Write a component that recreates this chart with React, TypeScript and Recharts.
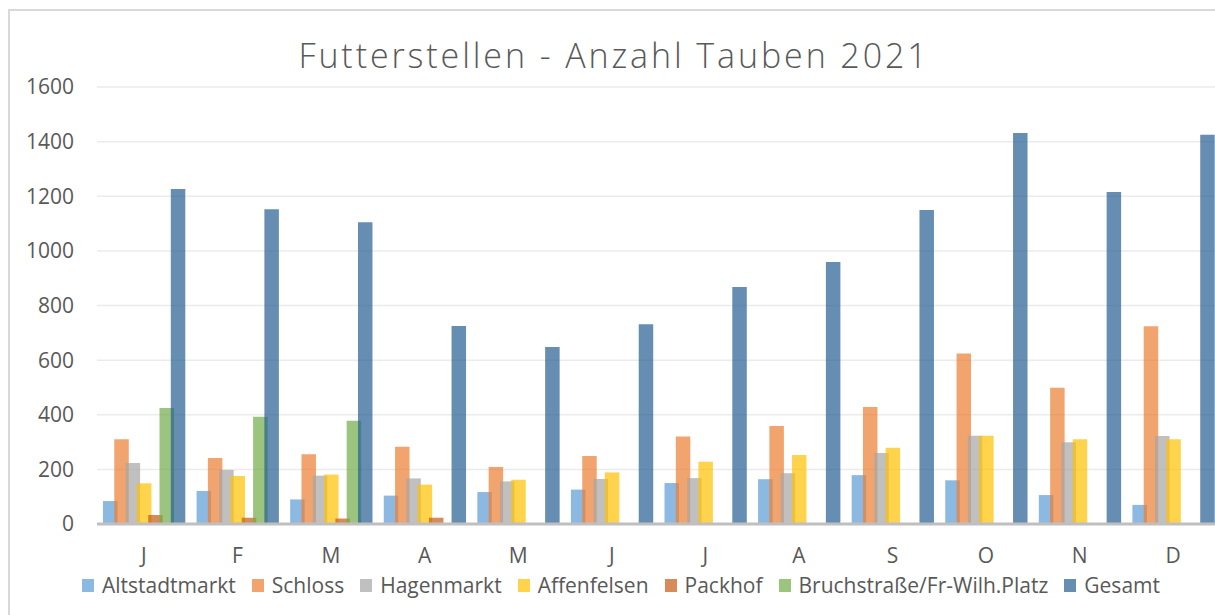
import React from 'react';
import { BarChart, Bar, XAxis, YAxis, CartesianGrid, Legend } from 'recharts';

// Monatliche Zählung an den Futterstellen
const months = ['J', 'F', 'M', 'A', 'M', 'J', 'J', 'A', 'S', 'O', 'N', 'D'];
const altstadtmarkt = [84, 121, 90, 104, 117, 126, 150, 164, 179, 160, 106, 70];
const schloss = [310, 242, 255, 283, 209, 249, 320, 359, 428, 624, 499, 724];
const hagenmarkt = [223, 198, 177, 167, 156, 165, 168, 186, 260, 323, 299, 322];
const affenfelsen = [149, 176, 181, 144, 162, 189, 228, 253, 279, 323, 310, 310];
const packhof = [33, 23, 20, 23, null, null, null, null, null, null, null, null];
const bruchstrasse = [425, 393, 378, null, null, null, null, null, null, null, null, null];
const gesamt = [1227, 1152, 1105, 725, 648, 731, 868, 959, 1150, 1432, 1216, 1425];
const yTicks = [0, 200, 400, 600, 800, 1000, 1200, 1400, 1600];

const series = [
  { key: 'Altstadtmarkt', color: '#5B9BD5' },
  { key: 'Schloss', color: '#ED7D31' },
  { key: 'Hagenmarkt', color: '#A5A5A5' },
  { key: 'Affenfelsen', color: '#FFC000' },
  { key: 'Packhof', color: '#C55A11' },
  { key: 'Bruchstraße/Fr-Wilh.Platz', color: '#70AD47' },
  { key: 'Gesamt', color: '#255E91' },
];

const data = months.map((m, i) => ({
  month: m,
  Altstadtmarkt: altstadtmarkt[i],
  Schloss: schloss[i],
  Hagenmarkt: hagenmarkt[i],
  Affenfelsen: affenfelsen[i],
  Packhof: packhof[i],
  'Bruchstraße/Fr-Wilh.Platz': bruchstrasse[i],
  Gesamt: gesamt[i],
}));

const FONT = '"Open Sans", "DejaVu Sans", sans-serif';
const TEXT = '#595959';

const LegendContent = () => (
  <div style={{ display: 'flex', justifyContent: 'center', gap: 16, fontFamily: FONT, fontSize: 21, color: TEXT }}>
    {series.map((s) => (
      <div key={s.key} style={{ display: 'flex', alignItems: 'center' }}>
        <span style={{ width: 12, height: 13, background: s.color, opacity: 0.7, marginRight: 8, display: 'inline-block' }} />
        <span>{s.key}</span>
      </div>
    ))}
  </div>
);

const App: React.FC = () => {
  return (
    <div style={{ position: 'fixed', left: 0, top: 0, width: 1215, height: 615, overflow: 'hidden', background: '#fff' }}>
      <div style={{ position: 'absolute', left: 8, top: 9, width: 1240, height: 660, border: '2px solid #d9d9d9' }} />
      <div
        style={{
          position: 'absolute', left: 9, top: 35, width: 1210, textAlign: 'center',
          fontFamily: FONT, fontWeight: 300, fontSize: 34, letterSpacing: 2.9, color: TEXT, lineHeight: '40px',
        }}
      >
        Futterstellen - Anzahl Tauben 2021
      </div>
      <div style={{ position: 'absolute', left: 9, top: 10 }}>
        <BarChart
          width={1224}
          height={640}
          data={data}
          margin={{ top: 77, right: 13, left: 0, bottom: 68 }}
          barSize={14.5}
          barGap={-3.2}
        >
          <CartesianGrid vertical={false} stroke="#ebebeb" strokeWidth={1.5} />
          <XAxis
            dataKey="month"
            height={30}
            tickLine={false}
            tickSize={0}
            tickMargin={24}
            axisLine={{ stroke: '#bfbfbf', strokeWidth: 3 }}
            tick={{ fill: TEXT, fontSize: 21, fontFamily: FONT }}
          />
          <YAxis
            width={88}
            domain={[0, 1600]}
            ticks={yTicks}
            axisLine={false}
            tickLine={false}
            tickSize={0}
            tickMargin={23}
            tick={{ fill: TEXT, fontSize: 21, fontFamily: FONT }}
          />
          <Legend
            height={28}
            content={<LegendContent />}
            wrapperStyle={{ top: 561, bottom: 'auto', left: 0, width: 1224 }}
          />
          {series.map((s) => (
            <Bar key={s.key} dataKey={s.key} fill={s.color} fillOpacity={0.7} isAnimationActive={false} />
          ))}
        </BarChart>
      </div>
    </div>
  );
};

export default App;
